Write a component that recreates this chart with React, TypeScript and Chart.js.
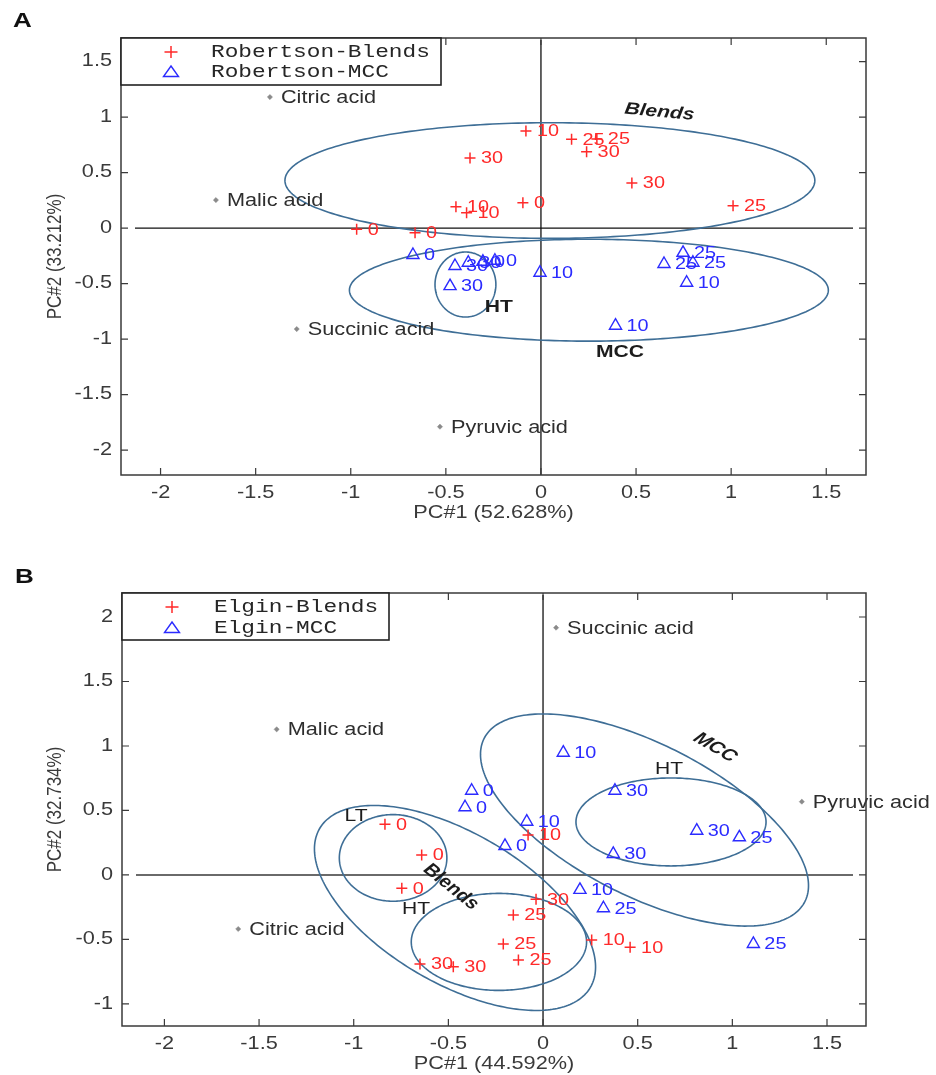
import React, { useEffect, useRef } from 'react';
import { Chart, registerables } from 'chart.js';

Chart.register(...registerables);

// ---------------- Panel A (Robertson) ----------------
const blendsA_x = [-0.079, 0.161, 0.294, 0.240, -0.373, 0.478, 1.010, -0.095, -0.447, -0.391, -0.662, -0.969];
const blendsA_y = [0.874, 0.799, 0.802, 0.687, 0.631, 0.405, 0.201, 0.228, 0.192, 0.138, -0.042, -0.012];
const blendsA_lbl = ['10', '25', '25', '30', '30', '30', '25', '0', '10', '10', '0', '0'];

const mccA_x = [-0.673, -0.452, -0.382, -0.305, -0.242, -0.478, -0.005, 0.747, 0.647, 0.799, 0.766, 0.392];
const mccA_y = [-0.243, -0.342, -0.313, -0.304, -0.295, -0.523, -0.403, -0.223, -0.324, -0.313, -0.493, -0.880];
const mccA_lbl = ['0', '30', '30', '0', '0', '30', '10', '25', '25', '25', '10', '10'];

const varsA_x = [-1.425, -1.709, -1.284, -0.531];
const varsA_y = [1.180, 0.252, -0.910, -1.790];
const varsA_lbl = ['Citric acid', 'Malic acid', 'Succinic acid', 'Pyruvic acid'];

// ellipses: [cx, cy, ux, uy, vx, vy] (centre + two half-axis vectors, data units)
const ellA_blends = [0.047, 0.428, 1.393, 0, 0, 0.521];
const ellA_mcc = [0.252, -0.560, 1.259, 0, 0, 0.459];
const ellA_ht = [-0.397, -0.509, 0.160, 0, 0, 0.293];

const annA_text = ['Blends', 'HT', 'MCC'];
const annA_x = [0.623, -0.221, 0.415];
const annA_y = [1.045, -0.712, -1.117];
const annA_rot = [6.4, 0, 0];

const xRangeA = [-2.208, 1.709];
const yRangeA = [-2.225, 1.712];

// ---------------- Panel B (Elgin) ----------------
const blendsB_x = [-0.835, -0.641, -0.746, -0.079, -0.037, -0.157, -0.210, -0.130, -0.650, -0.474, 0.257, 0.460];
const blendsB_y = [0.393, 0.155, -0.103, 0.310, -0.188, -0.310, -0.535, -0.659, -0.690, -0.711, -0.504, -0.560];
const blendsB_lbl = ['0', '0', '0', '10', '30', '25', '25', '25', '30', '30', '10', '10'];

const mccB_x = [0.107, -0.377, -0.412, -0.086, -0.201, 0.380, 0.812, 1.037, 0.371, 0.195, 0.319, 1.111];
const mccB_y = [0.948, 0.653, 0.525, 0.413, 0.225, 0.653, 0.343, 0.292, 0.163, -0.116, -0.258, -0.535];
const mccB_lbl = ['10', '0', '0', '10', '0', '30', '30', '25', '30', '10', '25', '25'];

const varsB_x = [0.069, -1.407, 1.367, -1.610];
const varsB_y = [1.917, 1.129, 0.568, -0.419];
const varsB_lbl = ['Succinic acid', 'Malic acid', 'Pyruvic acid', 'Citric acid'];

const ellB_mcc = [0.536, 0.426, 0.847, -0.633, -0.182, -0.525];
const ellB_htUpper = [0.676, 0.411, 0.502, 0, 0, 0.341];
const ellB_blends = [-0.465, -0.256, 0.715, -0.616, -0.200, -0.502];
const ellB_lt = [-0.792, 0.132, 0.284, 0, 0, 0.336];
const ellB_htLower = [-0.233, -0.519, 0.463, 0, 0, 0.376];

const annB_text = ['MCC', 'HT', 'LT', 'Blends', 'HT'];
const annB_x = [0.909, 0.666, -0.988, -0.486, -0.671];
const annB_y = [0.988, 0.822, 0.457, -0.093, -0.267];
const annB_rot = [36, 0, 0, 45, 0];

const xRangeB = [-2.224, 1.706];
const yRangeB = [-1.171, 2.186];

// ---------------- styles ----------------
const RED = '#ff2a2a';
const BLUE = '#2b2bff';
const GRAY = '#8a8a8a';
const ELL = '#3e6e96';
const SX = 1.24; // horizontal stretch of the original figure

const SANS = "'Liberation Sans', Arial, sans-serif";
const MONO = "'Liberation Mono', 'Courier New', monospace";

function drawText(ctx: CanvasRenderingContext2D, s: string, x: number, y: number, font: string, color: string,
  align: CanvasTextAlign = 'left', rot = 0, sx = SX) {
  ctx.save();
  ctx.translate(x, y);
  ctx.scale(sx, 1);
  if (rot) ctx.rotate(rot);
  ctx.font = font;
  ctx.fillStyle = color;
  ctx.textAlign = align;
  ctx.textBaseline = 'middle';
  ctx.fillText(s, 0, 0);
  ctx.restore();
}

function fmt(v: number) {
  return String(+v.toFixed(2));
}

function makePlugin(cfg: any) {
  return {
    id: 'matlabLook',
    beforeDatasetsDraw(chart: any) {
      const { ctx, chartArea: a } = chart;
      const xs = chart.scales.x, ys = chart.scales.y;
      ctx.save();
      // zero lines
      const x0 = xs.getPixelForValue(0), y0 = ys.getPixelForValue(0);
      ctx.lineWidth = cfg.hLineWidth;
      ctx.strokeStyle = cfg.hLineColor;
      ctx.beginPath();
      ctx.moveTo(a.left + 14, y0); ctx.lineTo(a.right - 13, y0);
      ctx.stroke();
      ctx.lineWidth = 1.3;
      ctx.strokeStyle = '#111';
      ctx.beginPath();
      ctx.moveTo(x0, a.top + 2); ctx.lineTo(x0, a.bottom);
      ctx.stroke();
      // ellipses
      ctx.beginPath();
      ctx.rect(a.left, a.top, a.right - a.left, a.bottom - a.top);
      ctx.clip();
      ctx.strokeStyle = ELL;
      ctx.lineWidth = 1.6;
      for (const e of cfg.ellipses) {
        ctx.beginPath();
        const N = 260;
        for (let i = 0; i <= N; i++) {
          const t = (i / N) * Math.PI * 2;
          const px = xs.getPixelForValue(e[0] + e[2] * Math.cos(t) + e[4] * Math.sin(t));
          const py = ys.getPixelForValue(e[1] + e[3] * Math.cos(t) + e[5] * Math.sin(t));
          if (i === 0) ctx.moveTo(px, py); else ctx.lineTo(px, py);
        }
        ctx.closePath();
        ctx.stroke();
      }
      ctx.restore();
    },
    afterDatasetsDraw(chart: any) {
      const { ctx, chartArea: a } = chart;
      const xs = chart.scales.x, ys = chart.scales.y;
      // point labels
      const labelSets = [cfg.blendsLbl, cfg.mccLbl, cfg.varsLbl];
      chart.data.datasets.forEach((ds: any, di: number) => {
        const meta = chart.getDatasetMeta(di);
        meta.data.forEach((el: any, i: number) => {
          if (di === 2) {
            drawText(ctx, labelSets[di][i], el.x + 11, el.y + 1, `17.5px ${SANS}`, '#2e2e2e');
          } else {
            drawText(ctx, labelSets[di][i], el.x + 11, el.y + 1, `16px ${SANS}`, di === 0 ? RED : BLUE);
          }
        });
      });
      // annotations
      cfg.annText.forEach((s: string, i: number) => {
        const px = xs.getPixelForValue(cfg.annX[i]);
        const py = ys.getPixelForValue(cfg.annY[i]);
        drawText(ctx, s, px, py, cfg.annFont[i], '#1c1c1c', 'center', (cfg.annRot[i] * Math.PI) / 180);
      });
      // box
      ctx.save();
      ctx.strokeStyle = '#3a3a3a';
      ctx.lineWidth = 1.5;
      ctx.strokeRect(a.left, a.top, a.right - a.left, a.bottom - a.top);
      // ticks (inward, all four sides)
      ctx.lineWidth = 1.2;
      ctx.beginPath();
      xs.ticks.forEach((t: any) => {
        const px = xs.getPixelForValue(t.value);
        ctx.moveTo(px, a.bottom); ctx.lineTo(px, a.bottom - 7);
        ctx.moveTo(px, a.top); ctx.lineTo(px, a.top + 7);
      });
      ys.ticks.forEach((t: any) => {
        const py = ys.getPixelForValue(t.value);
        ctx.moveTo(a.left, py); ctx.lineTo(a.left + 7, py);
        ctx.moveTo(a.right, py); ctx.lineTo(a.right - 7, py);
      });
      ctx.stroke();
      ctx.restore();
      // tick labels
      const tf = `17.5px ${SANS}`;
      xs.ticks.forEach((t: any) => {
        drawText(ctx, fmt(t.value), xs.getPixelForValue(t.value), a.bottom + 18, tf, '#3a3a3a', 'center');
      });
      ys.ticks.forEach((t: any) => {
        drawText(ctx, fmt(t.value), a.left - 9, ys.getPixelForValue(t.value), tf, '#3a3a3a', 'right');
      });
      // axis titles
      drawText(ctx, cfg.xTitle, (a.left + a.right) / 2, a.bottom + 38, `17.5px ${SANS}`, '#3a3a3a', 'center');
      drawText(ctx, cfg.yTitle, 55, (a.top + a.bottom) / 2, `17px ${SANS}`, '#3a3a3a', 'center', -Math.PI / 2);
      // legend
      const L = cfg.legend;
      ctx.save();
      ctx.fillStyle = '#fff';
      ctx.fillRect(a.left, a.top, L.w, L.h);
      ctx.strokeStyle = '#222';
      ctx.lineWidth = 1.6;
      ctx.strokeRect(a.left, a.top, L.w, L.h);
      // + marker
      const r0 = a.top + L.row1, r1 = a.top + L.row2;
      ctx.strokeStyle = RED;
      ctx.lineWidth = 1.5;
      ctx.beginPath();
      ctx.moveTo(L.mx - 6.5, r0); ctx.lineTo(L.mx + 6.5, r0);
      ctx.moveTo(L.mx, r0 - 6); ctx.lineTo(L.mx, r0 + 6);
      ctx.stroke();
      // triangle marker
      ctx.strokeStyle = BLUE;
      ctx.lineWidth = 1.4;
      ctx.beginPath();
      ctx.moveTo(L.mx, r1 - 6); ctx.lineTo(L.mx + 7.5, r1 + 4.5); ctx.lineTo(L.mx - 7.5, r1 + 4.5);
      ctx.closePath();
      ctx.stroke();
      ctx.restore();
      drawText(ctx, chart.data.datasets[0].label, L.tx, r0, `19px ${MONO}`, '#262626', 'left', 0, 1.2);
      drawText(ctx, chart.data.datasets[1].label, L.tx, r1, `19px ${MONO}`, '#262626', 'left', 0, 1.2);
      // panel letter
      drawText(ctx, cfg.letter, cfg.letterX, cfg.letterY, `bold 21px ${SANS}`, '#111', 'left');
    },
  };
}

function toPts(xs: number[], ys: number[]) {
  return xs.map((x, i) => ({ x, y: ys[i] }));
}

function Panel({ cfg, top, height }: any) {
  const ref = useRef<HTMLCanvasElement | null>(null);
  useEffect(() => {
    const chart = new Chart(ref.current as HTMLCanvasElement, {
      type: 'scatter',
      data: {
        datasets: [
          {
            label: cfg.blendsName,
            data: toPts(cfg.blendsX, cfg.blendsY),
            pointStyle: 'cross',
            pointRadius: 5.5,
            borderColor: RED,
            backgroundColor: RED,
            borderWidth: 1.5,
          },
          {
            label: cfg.mccName,
            data: toPts(cfg.mccX, cfg.mccY),
            pointStyle: 'triangle',
            pointRadius: 7,
            borderColor: BLUE,
            backgroundColor: 'rgba(0,0,0,0)',
            borderWidth: 1.4,
          },
          {
            label: 'Variables',
            data: toPts(cfg.varsX, cfg.varsY),
            pointStyle: 'rectRot',
            pointRadius: 2.6,
            borderColor: GRAY,
            backgroundColor: GRAY,
            borderWidth: 0.5,
          },
        ],
      },
      options: {
        responsive: false,
        animation: false,
        devicePixelRatio: 1,
        layout: { padding: cfg.padding },
        plugins: { legend: { display: false }, tooltip: { enabled: false } },
        scales: {
          x: {
            type: 'linear',
            display: false,
            min: cfg.xRange[0],
            max: cfg.xRange[1],
            ticks: { display: false, stepSize: 0.5, includeBounds: false },
            grid: { display: false, drawTicks: false, tickLength: 0 },
            border: { display: false },
          },
          y: {
            type: 'linear',
            display: false,
            min: cfg.yRange[0],
            max: cfg.yRange[1],
            ticks: { display: false, stepSize: 0.5, includeBounds: false },
            grid: { display: false, drawTicks: false, tickLength: 0 },
            border: { display: false },
          },
        },
      },
      plugins: [makePlugin(cfg)],
    } as any);
    return () => chart.destroy();
  }, []);
  return (
    <canvas
      ref={ref}
      width={936}
      height={height}
      style={{ position: 'absolute', left: 0, top, width: 936, height }}
    />
  );
}

const cfgA = {
  letter: 'A', letterX: 13, letterY: 21,
  blendsName: 'Robertson-Blends', mccName: 'Robertson-MCC',
  blendsX: blendsA_x, blendsY: blendsA_y, blendsLbl: blendsA_lbl,
  mccX: mccA_x, mccY: mccA_y, mccLbl: mccA_lbl,
  varsX: varsA_x, varsY: varsA_y, varsLbl: varsA_lbl,
  ellipses: [ellA_blends, ellA_mcc, ellA_ht],
  annText: annA_text, annX: annA_x, annY: annA_y, annRot: annA_rot,
  annFont: [`bold italic 17px ${SANS}`, `bold 17px ${SANS}`, `bold 17px ${SANS}`],
  xRange: xRangeA, yRange: yRangeA,
  xTitle: 'PC#1 (52.628%)', yTitle: 'PC#2 (33.212%)',
  hLineColor: '#111', hLineWidth: 1.3,
  padding: { left: 121, right: 70, top: 38, bottom: 65 },
  legend: { w: 320, h: 47, row1: 14, row2: 34, mx: 171, tx: 211 },
};

const cfgB = {
  letter: 'B', letterX: 15, letterY: 37,
  blendsName: 'Elgin-Blends', mccName: 'Elgin-MCC',
  blendsX: blendsB_x, blendsY: blendsB_y, blendsLbl: blendsB_lbl,
  mccX: mccB_x, mccY: mccB_y, mccLbl: mccB_lbl,
  varsX: varsB_x, varsY: varsB_y, varsLbl: varsB_lbl,
  ellipses: [ellB_mcc, ellB_htUpper, ellB_blends, ellB_lt, ellB_htLower],
  annText: annB_text, annX: annB_x, annY: annB_y, annRot: annB_rot,
  annFont: [`bold italic 17px ${SANS}`, `17px ${SANS}`, `17px ${SANS}`, `bold 17px ${SANS}`, `17px ${SANS}`],
  xRange: xRangeB, yRange: yRangeB,
  xTitle: 'PC#1 (44.592%)', yTitle: 'PC#2 (32.734%)',
  hLineColor: '#6a6a6a', hLineWidth: 2,
  padding: { left: 122, right: 70, top: 53, bottom: 49 },
  legend: { w: 267, h: 47, row1: 14, row2: 35, mx: 172, tx: 214 },
};

export default function App() {
  return (
    <div style={{ position: 'absolute', left: 0, top: 0, width: 936, height: 1075, background: '#fff' }}>
      <Panel cfg={cfgA} top={0} height={540} />
      <Panel cfg={cfgB} top={540} height={535} />
    </div>
  );
}
